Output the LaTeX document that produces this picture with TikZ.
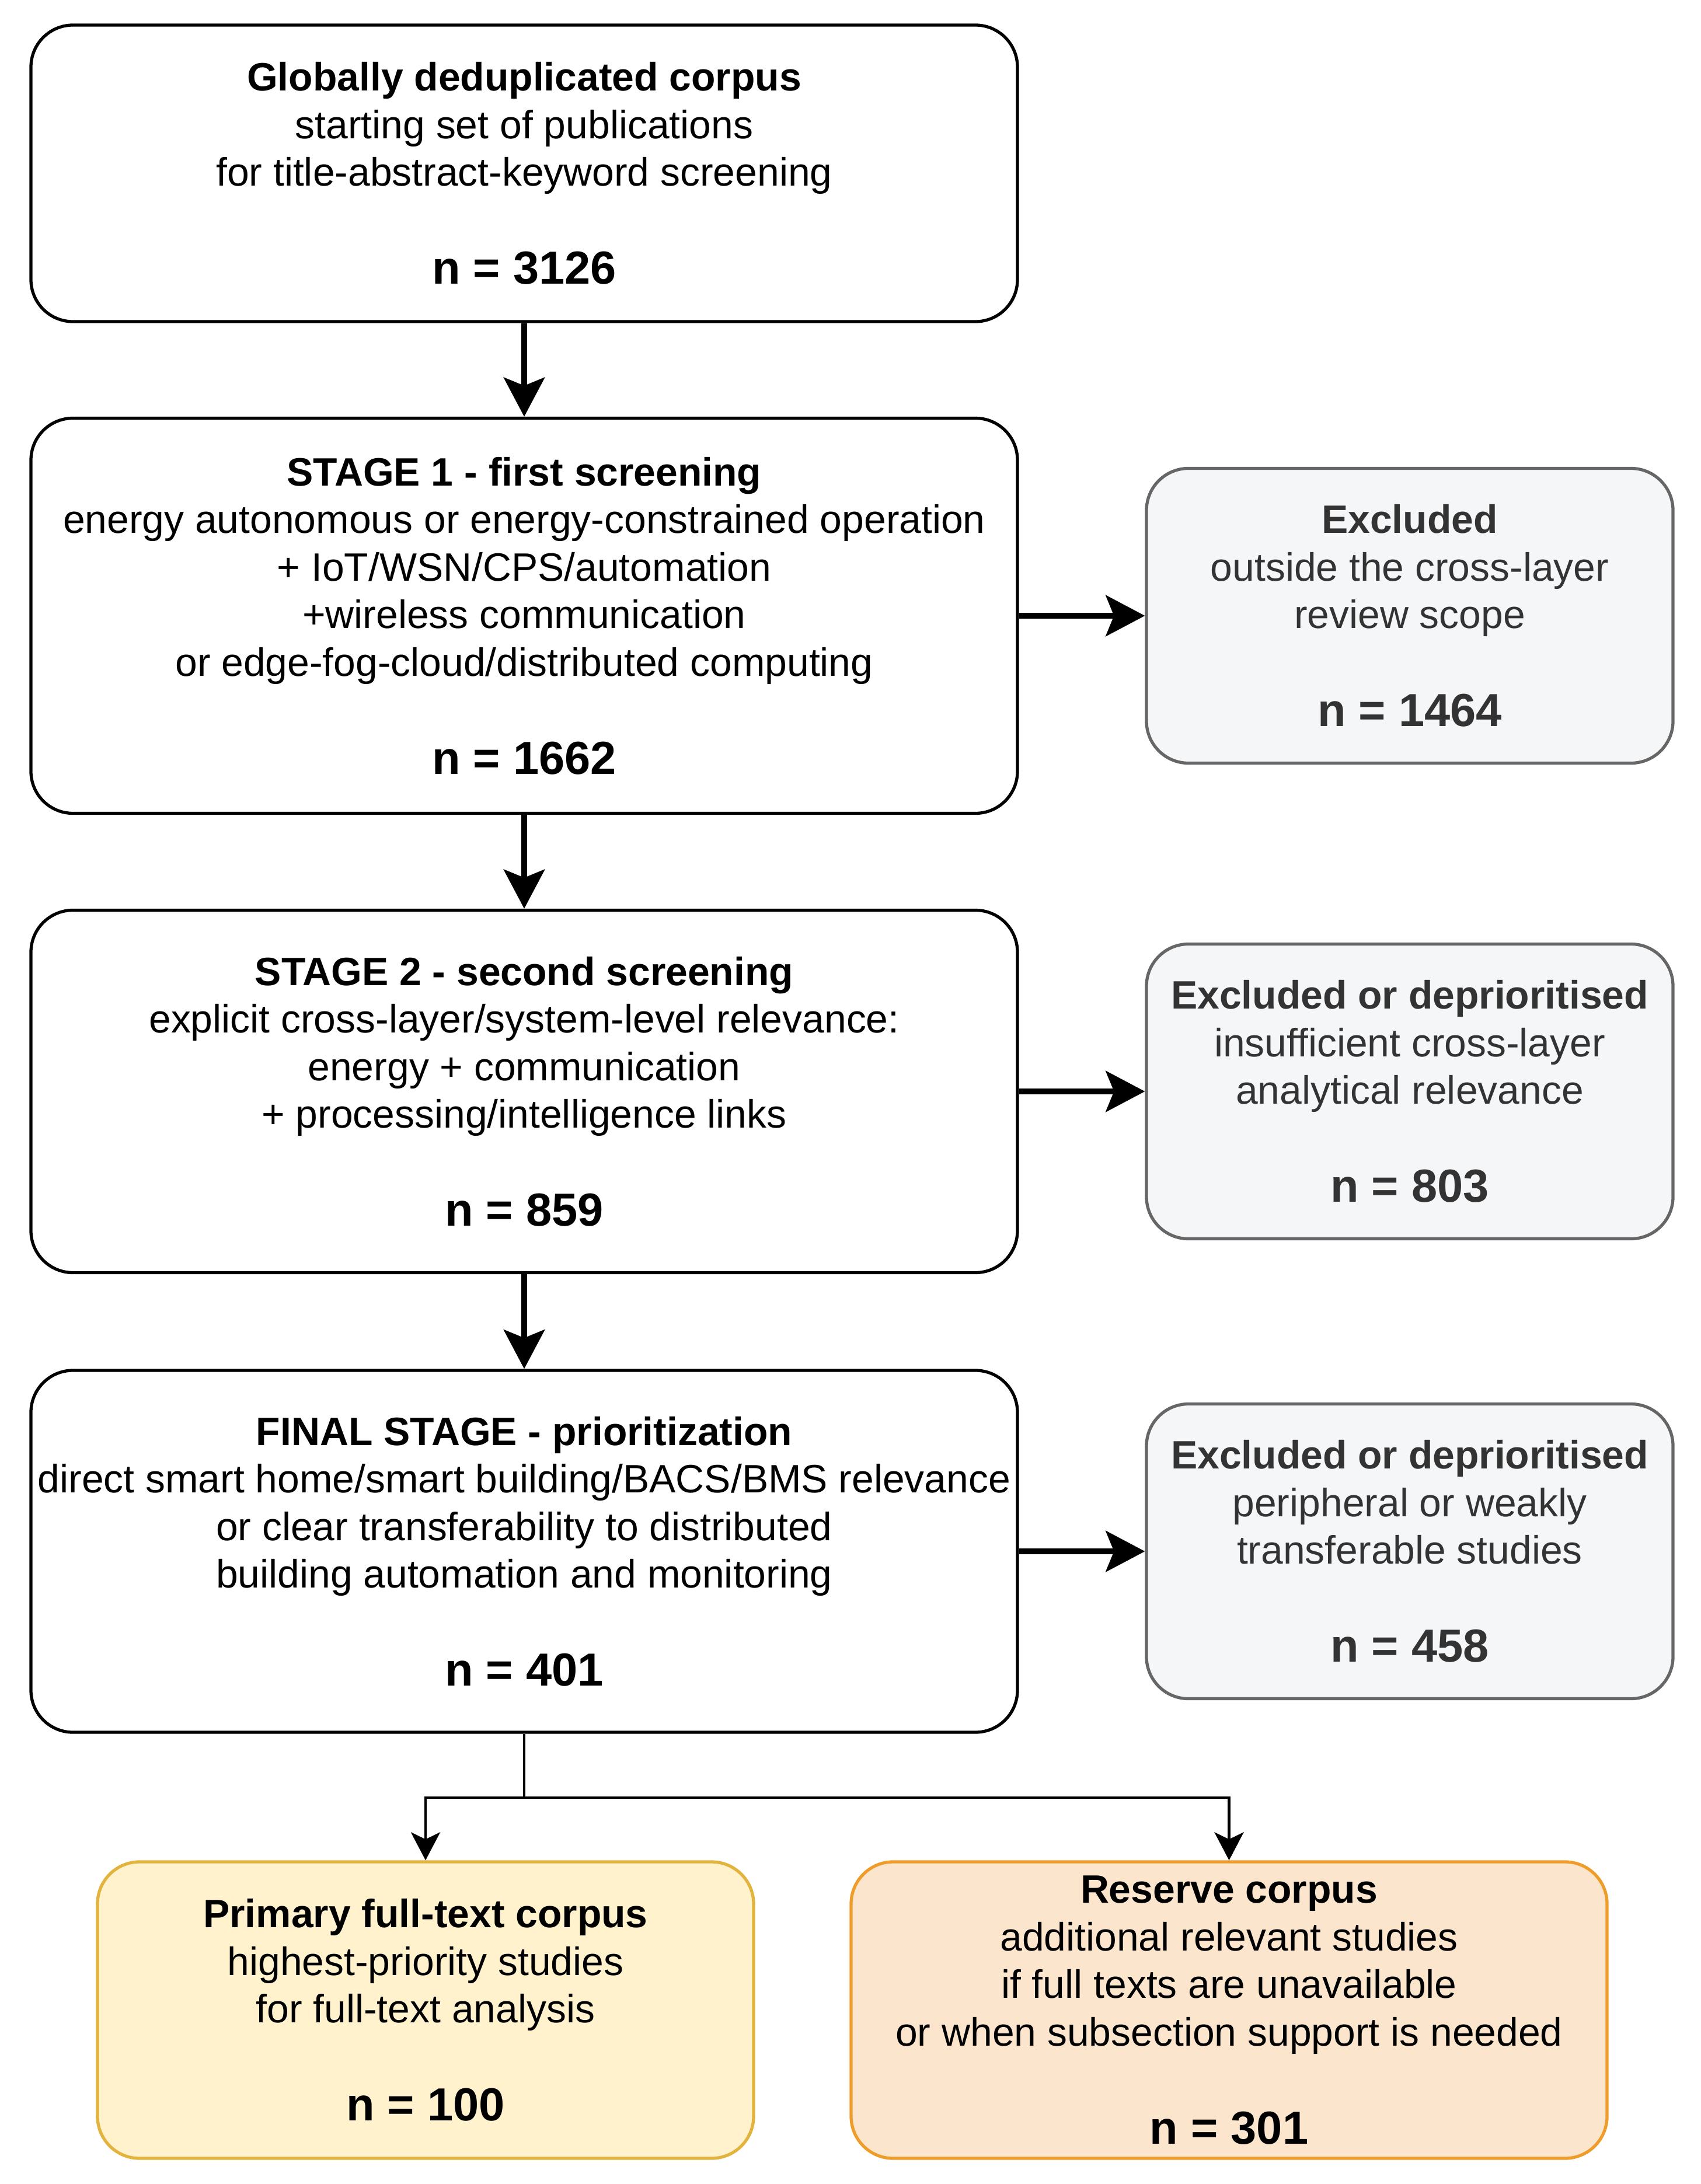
\documentclass[tikz,border=0pt]{standalone}
\usepackage{fontspec}
\setmainfont{Liberation Sans}
\usetikzlibrary{arrows.meta}

\definecolor{exclfill}{HTML}{F5F6F8}
\definecolor{excldraw}{HTML}{666666}
\definecolor{excltext}{HTML}{333333}
\definecolor{primfill}{HTML}{FFF2CC}
\definecolor{primdraw}{HTML}{E2B43E}
\definecolor{resfill}{HTML}{FCE5CD}
\definecolor{resdraw}{HTML}{EE9D2B}

\newcommand{\ncount}[1]{{\fontsize{22.6}{27}\selectfont\bfseries #1}}

\begin{document}
\begin{tikzpicture}[
    stagebox/.style={rectangle, rounded corners=7.2mm, line width=1.5pt, draw=black, fill=white, align=center, minimum width=16.9cm, inner sep=0pt, font=\fontsize{19.3}{23.2}\selectfont},
    exclbox/.style={stagebox, draw=excldraw, fill=exclfill, text=excltext, minimum width=9.02cm, minimum height=5.05cm},
    primbox/.style={stagebox, draw=primdraw, fill=primfill, minimum width=11.24cm, minimum height=5.08cm},
    resbox/.style={stagebox, draw=resdraw, fill=resfill, minimum width=12.95cm, minimum height=5.08cm},
    flow/.style={line width=2.7pt, -{Stealth[length=6.7mm, width=7mm, inset=1.4mm]}},
    split/.style={line width=1.4pt},
    splitarrow/.style={split, -{Stealth[length=4.8mm, width=5mm, inset=1.2mm]}}
    ]

    \useasboundingbox (0,0) rectangle (29.13,-37.42);

    \node[stagebox, minimum height=5.08cm] (corpus) at (8.98,-2.97) {\textbf{Globally deduplicated corpus}\\starting set of publications\\for title-abstract-keyword screening\\[24.5pt]\ncount{n = 3126}};

    \node[stagebox, minimum height=6.77cm] (stage1) at (8.98,-10.55) {\textbf{STAGE 1 - first screening}\\energy autonomous or energy-constrained operation\\+ IoT/WSN/CPS/automation\\+wireless communication\\or edge-fog-cloud/distributed computing\\[24.5pt]\ncount{n = 1662}};

    \node[stagebox, minimum height=6.21cm] (stage2) at (8.98,-18.70) {\textbf{STAGE 2 - second screening}\\explicit cross-layer/system-level relevance:\\energy + communication\\+ processing/intelligence links\\[24.5pt]\ncount{n = 859}};

    \node[stagebox, minimum height=6.20cm] (final) at (8.98,-26.58) {\textbf{FINAL STAGE - prioritization}\\direct smart home/smart building/BACS/BMS relevance\\or clear transferability to distributed\\building automation and monitoring\\[24.5pt]\ncount{n = 401}};

    % excluded records
    \node[exclbox] (excl1) at (24.15,-10.55) {\textbf{Excluded}\\outside the cross-layer\\review scope\\[24.5pt]\ncount{n = 1464}};
    \node[exclbox] (excl2) at (24.15,-18.70) {\textbf{Excluded or deprioritised}\\insufficient cross-layer\\analytical relevance\\[24.5pt]\ncount{n = 803}};
    \node[exclbox] (excl3) at (24.15,-26.58) {\textbf{Excluded or deprioritised}\\peripheral or weakly\\transferable studies\\[24.5pt]\ncount{n = 458}};

    % final corpora
    \node[primbox] (primary) at (7.29,-34.44) {\textbf{Primary full-text corpus}\\highest-priority studies\\for full-text analysis\\[24.5pt]\ncount{n = 100}};
    \node[resbox] (reserve) at (21.055,-34.44) {\textbf{Reserve corpus}\\additional relevant studies\\if full texts are unavailable\\or when subsection support is needed\\[24.5pt]\ncount{n = 301}};

    \draw[flow] (corpus) -- (stage1);
    \draw[flow] (stage1) -- (stage2);
    \draw[flow] (stage2) -- (final);
    \draw[flow] (stage1) -- (excl1);
    \draw[flow] (stage2) -- (excl2);
    \draw[flow] (final) -- (excl3);

    \coordinate (fork) at (8.98,-30.80);
    \draw[split] (final) -- (fork);
    \draw[splitarrow] (fork) -| (primary);
    \draw[splitarrow] (fork) -| (reserve);

\end{tikzpicture}
\end{document}
